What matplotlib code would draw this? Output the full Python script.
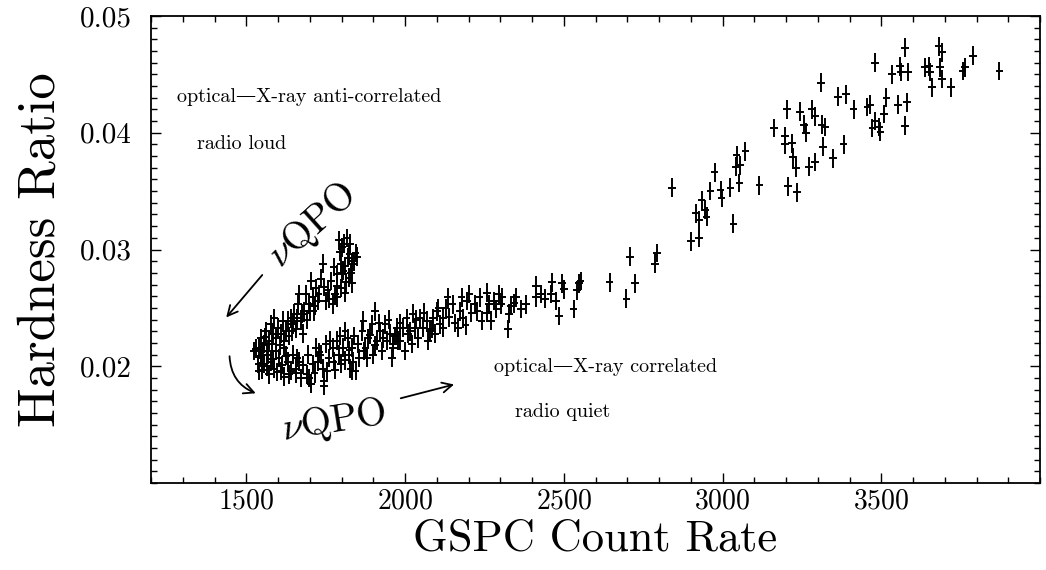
import matplotlib
matplotlib.use("Agg")
import matplotlib.pyplot as plt
from matplotlib.ticker import MultipleLocator, FormatStrFormatter

plt.rcParams["font.family"] = ["cmr10", "DejaVu Serif"]
plt.rcParams["mathtext.fontset"] = "cm"
plt.rcParams["axes.formatter.use_mathtext"] = True
plt.rcParams["axes.unicode_minus"] = False

# --- GSPC count rate vs hardness ratio -------------------------------------
# upper (anti-correlated) branch
upper_rate = [1791, 1803, 1816, 1828, 1844, 1834, 1819, 1797, 1787, 1806, 1822, 1834,
              1775, 1766, 1797, 1812, 1787, 1741, 1734, 1756, 1750, 1772, 1719, 1725,
              1703, 1709, 1712, 1697, 1688, 1681, 1666, 1662, 1672, 1650, 1647, 1641,
              1656, 1678, 1631, 1625, 1616, 1609, 1600, 1588, 1584, 1578, 1572, 1562,
              1556, 1547, 1553, 1541, 1531, 1569, 1578, 1588, 1556, 1547, 1594, 1603,
              1609, 1619, 1631, 1634, 1647, 1656, 1666, 1672, 1525, 1541, 1572, 1619,
              1656,
              1795, 1810, 1825, 1840, 1800, 1815, 1830, 1785, 1808, 1848, 1780, 1760,
              1745, 1728, 1715, 1700, 1690, 1675, 1660, 1645, 1635, 1620, 1605, 1595,
              1580, 1565, 1560, 1545, 1538, 1550, 1565, 1585, 1598, 1612, 1625, 1640,
              1660]
upper_hr = [0.0308, 0.0302, 0.0310, 0.0305, 0.0297, 0.0288, 0.0293, 0.0288, 0.0279, 0.0282,
            0.0276, 0.0271, 0.0285, 0.0273, 0.0267, 0.0263, 0.0259, 0.0288, 0.0275, 0.0265,
            0.0256, 0.0253, 0.0267, 0.0256, 0.0273, 0.0259, 0.0247, 0.0253, 0.0262, 0.0247,
            0.0262, 0.0253, 0.0239, 0.0245, 0.0236, 0.0241, 0.0232, 0.0228, 0.0239, 0.0230,
            0.0239, 0.0228, 0.0233, 0.0241, 0.0228, 0.0236, 0.0222, 0.0230, 0.0219, 0.0224,
            0.0213, 0.0216, 0.0215, 0.0210, 0.0204, 0.0198, 0.0202, 0.0207, 0.0213, 0.0207,
            0.0196, 0.0216, 0.0204, 0.0193, 0.0210, 0.0198, 0.0204, 0.0190, 0.0213, 0.0196,
            0.0193, 0.0191, 0.0194,
            0.0298, 0.0286, 0.0296, 0.0290, 0.0280, 0.0272, 0.0280, 0.0269, 0.0305, 0.0294,
            0.0262, 0.0258, 0.0268, 0.0262, 0.0252, 0.0247, 0.0240, 0.0245, 0.0241, 0.0230,
            0.0226, 0.0222, 0.0218, 0.0224, 0.0219, 0.0213, 0.0225, 0.0209, 0.0202, 0.0197,
            0.0200, 0.0206, 0.0195, 0.0201, 0.0209, 0.0196, 0.0207]

# lower (correlated) branch
lower_rate = [1694, 1697, 1703, 1709, 1719, 1725, 1734, 1741, 1744, 1750, 1759, 1772,
              1775, 1787, 1791, 1797, 1806, 1812, 1819, 1822, 1828, 1834, 1837, 1844,
              1853, 1866, 1869, 1875, 1881, 1884, 1897, 1900, 1906, 1912, 1922, 1928,
              1938, 1944, 1953, 1963, 1975, 1978, 1703, 1744, 1834,
              1959, 1963, 1975, 1984, 1994, 2000, 2009, 2022, 2025, 2031, 2041, 2047,
              2056, 2069, 2072, 2078, 2088, 2094, 2100, 2109, 2119, 2119, 2128, 2134,
              2156, 2166, 2172, 2178, 2181, 2191, 2203, 2209, 2219, 2228, 2241, 2259,
              2259, 2272, 2281, 2288, 2303, 2306, 2328, 2325, 2334, 2344, 2350, 2366,
              2381, 2413, 2413, 2428, 2441, 2459, 2463, 2475, 2484, 2494, 2500, 2531,
              2541, 2547,
              1680, 1690, 1715, 1730, 1755, 1765, 1780, 1795, 1810, 1825, 1840, 1855,
              1870, 1890, 1905, 1918, 1930, 1948, 1968, 1985, 2005, 2015, 2035, 2060,
              2085, 2105, 2140, 2150, 2195, 2235, 2265, 2295]
lower_hr = [0.0210, 0.0190, 0.0185, 0.0202, 0.0216, 0.0204, 0.0210, 0.0198, 0.0187, 0.0219,
            0.0207, 0.0216, 0.0204, 0.0222, 0.0210, 0.0202, 0.0216, 0.0230, 0.0224, 0.0210,
            0.0198, 0.0216, 0.0204, 0.0196, 0.0219, 0.0230, 0.0239, 0.0216, 0.0207, 0.0224,
            0.0236, 0.0210, 0.0247, 0.0222, 0.0230, 0.0213, 0.0236, 0.0222, 0.0228, 0.0216,
            0.0233, 0.0222, 0.0185, 0.0183, 0.0196,
            0.0207, 0.0219, 0.0228, 0.0222, 0.0233, 0.0213, 0.0228, 0.0219, 0.0245, 0.0233,
            0.0224, 0.0241, 0.0233, 0.0239, 0.0222, 0.0230, 0.0241, 0.0228, 0.0247, 0.0236,
            0.0241, 0.0233, 0.0250, 0.0259, 0.0237, 0.0233, 0.0247, 0.0259, 0.0241, 0.0235,
            0.0262, 0.0246, 0.0253, 0.0247, 0.0239, 0.0246, 0.0263, 0.0239, 0.0256, 0.0249,
            0.0253, 0.0259, 0.0245, 0.0232, 0.0252, 0.0254, 0.0259, 0.0249, 0.0253, 0.0269,
            0.0259, 0.0262, 0.0258, 0.0262, 0.0272, 0.0256, 0.0243, 0.0271, 0.0266, 0.0249,
            0.0265, 0.0271,
            0.0201, 0.0193, 0.0194, 0.0212, 0.0196, 0.0222, 0.0197, 0.0226, 0.0205, 0.0214,
            0.0226, 0.0207, 0.0213, 0.0227, 0.0218, 0.0237, 0.0224, 0.0240, 0.0226, 0.0237,
            0.0241, 0.0230, 0.0240, 0.0246, 0.0232, 0.0250, 0.0242, 0.0253, 0.0256, 0.0259,
            0.0253, 0.0262]

# high count-rate tail
high_rate = [2553, 2644, 2697, 2709, 2725, 2787, 2794, 2841, 2900, 2925, 2916, 2925,
             2934, 2944, 2950, 2962, 2975, 2994, 2997, 3025, 3034, 3041, 3044, 3053,
             3056, 3072, 3116, 3163, 3197, 3197, 3203, 3206, 3219, 3222, 3231, 3234,
             3244, 3256, 3262, 3272, 3281, 3291, 3291, 3312, 3310, 3316, 3322, 3347,
             3363, 3381, 3388, 3413, 3456, 3466, 3472, 3481, 3481, 3494, 3497, 3509,
             3516, 3534, 3553, 3559, 3563, 3575, 3575, 3581, 3584, 3638, 3650, 3653,
             3659, 3681, 3691, 3684, 3691, 3719, 3756, 3763, 3788, 3872]
high_hr = [0.0273, 0.0272, 0.0258, 0.0294, 0.0271, 0.0288, 0.0297, 0.0353, 0.0307, 0.0310,
           0.0331, 0.0325, 0.0342, 0.0334, 0.0328, 0.0350, 0.0366, 0.0351, 0.0344, 0.0353,
           0.0322, 0.0371, 0.0381, 0.0357, 0.0372, 0.0384, 0.0355, 0.0404, 0.0397, 0.0390,
           0.0420, 0.0354, 0.0391, 0.0379, 0.0370, 0.0349, 0.0418, 0.0407, 0.0400, 0.0371,
           0.0420, 0.0375, 0.0414, 0.0407, 0.0443, 0.0388, 0.0405, 0.0378, 0.0431, 0.0390,
           0.0433, 0.0420, 0.0422, 0.0424, 0.0404, 0.0460, 0.0410, 0.0405, 0.0401, 0.0416,
           0.0430, 0.0450, 0.0424, 0.0457, 0.0452, 0.0473, 0.0406, 0.0426, 0.0452, 0.0456,
           0.0457, 0.0452, 0.0439, 0.0474, 0.0469, 0.0456, 0.0446, 0.0439, 0.0453, 0.0456,
           0.0466, 0.0453]

rate_err = 12.0
hr_err = 0.0008

xticks = [1500, 2000, 2500, 3000, 3500]
yticks = [0.02, 0.03, 0.04, 0.05]

fig = plt.figure(figsize=(10.46, 5.70), dpi=100)
ax = fig.add_axes([0.1444, 0.1526, 0.8499, 0.8193])

for rate, hr in ((upper_rate, upper_hr), (lower_rate, lower_hr), (high_rate, high_hr)):
    ax.errorbar(rate, hr, xerr=rate_err, yerr=hr_err, fmt="none",
                ecolor="black", elinewidth=1.4, capsize=0)

ax.set_xlim(1200, 4000)
ax.set_ylim(0.01, 0.05)
ax.set_xticks(xticks)
ax.set_yticks(yticks)
ax.xaxis.set_minor_locator(MultipleLocator(100))
ax.yaxis.set_minor_locator(MultipleLocator(0.001))
ax.yaxis.set_major_formatter(FormatStrFormatter("%.2f"))
ax.tick_params(which="both", direction="in", top=True, right=True, width=1.0)
ax.tick_params(which="major", length=7, labelsize=20)
ax.tick_params(axis="y", which="major", pad=14, labelsize=21)
ax.tick_params(axis="x", which="major", pad=4)
ax.tick_params(which="minor", length=4)
for s in ax.spines.values():
    s.set_linewidth(1.3)

ax.set_xlabel("GSPC Count Rate", fontsize=32, labelpad=3)
ax.set_ylabel("Hardness Ratio", fontsize=38, labelpad=11)

small = dict(fontsize=14.5, ha="left", va="center")
ax.text(1281, 0.0431, "optical\u2014X-ray anti-correlated", **small)
ax.text(1344, 0.0390, "radio loud", **small)
ax.text(2281, 0.0199, "optical\u2014X-ray correlated", **small)
ax.text(2347, 0.0161, "radio quiet", **small)

ax.text(1709, 0.0321, r"$\nu$QPO", fontsize=28, rotation=42,
        ha="center", va="center", rotation_mode="anchor")
ax.text(1775, 0.0153, r"$\nu$QPO", fontsize=28, rotation=9,
        ha="center", va="center", rotation_mode="anchor")

arrow = dict(arrowstyle="->", color="black", lw=1.3, mutation_scale=18)
ax.annotate("", xy=(1431, 0.0240), xytext=(1556, 0.0280), arrowprops=arrow)
ax.annotate("", xy=(1538, 0.0176), xytext=(1447, 0.0211),
            arrowprops=dict(connectionstyle="arc3,rad=0.35", **arrow))
ax.annotate("", xy=(2163, 0.0185), xytext=(1978, 0.0172), arrowprops=arrow)

fig.savefig("out.png", dpi=100)
